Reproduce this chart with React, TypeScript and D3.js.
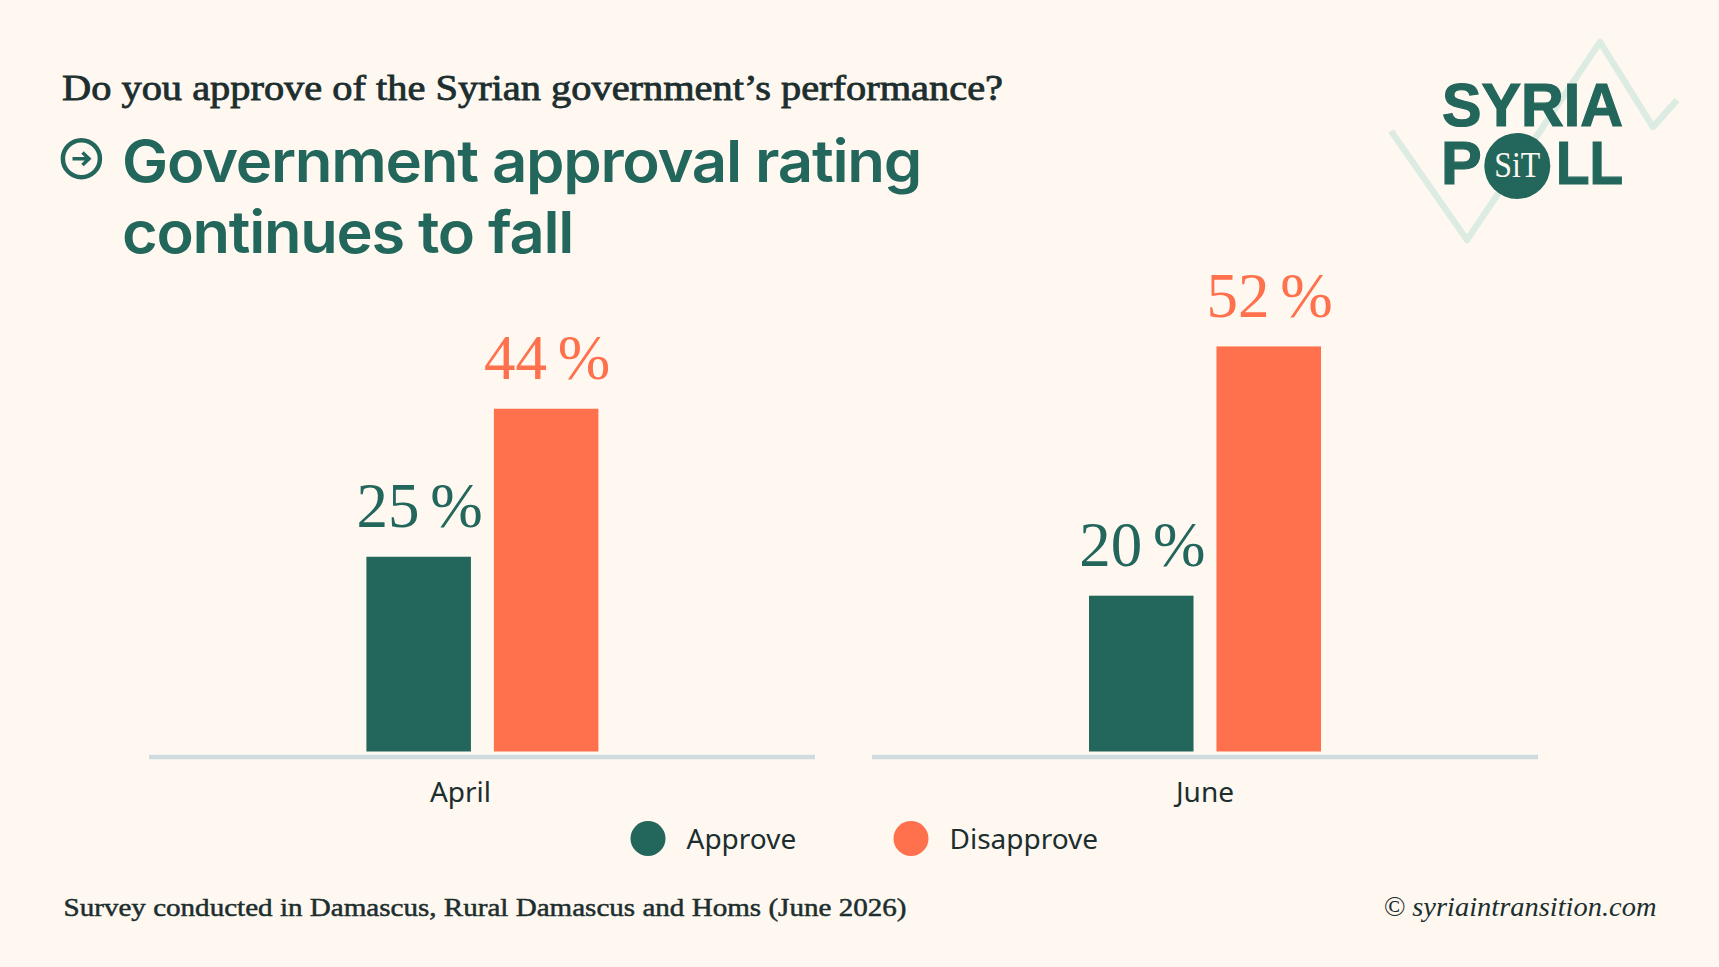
import * as d3 from 'd3';

const months = ['April', 'June'];
const seriesNames = ['Approve', 'Disapprove'];
const approve = [25, 20];
const disapprove = [44, 52];

const WIDTH = 1719;
const HEIGHT = 967;
const BG = '#fff8f1';
const GREEN = '#23665b';
const ORANGE = '#ff704d';
const INK = '#1c2e2e';
const SERIF = '"Liberation Serif", serif';
const SANS = 'Inter, sans-serif';
const LABEL = '"Noto Sans", sans-serif';

const colors = d3.scaleOrdinal<string, string>().domain(seriesNames).range([GREEN, ORANGE]);
const panelX = d3.scaleBand<string>().domain(months).range([149, 1538]).paddingInner(0.0788);
const barX = d3.scaleBand<string>().domain(seriesNames).range([0, 232]).paddingInner(0.18);
const y = d3.scaleLinear().domain([0, 100]).range([751.5, -27.5]);

const valuesBySeries: Record<string, number[]> = { Approve: approve, Disapprove: disapprove };

export default function App() {
  const panelW = panelX.bandwidth();
  const logoLine = d3.line()([
    [1391, 131],
    [1467, 240],
    [1600, 42],
    [1653, 127],
    [1677, 100],
  ]) as string;

  return (
    <svg
      width={WIDTH}
      height={HEIGHT}
      viewBox={`0 0 ${WIDTH} ${HEIGHT}`}
      style={{ position: 'fixed', left: 0, top: 0, display: 'block' }}
    >
      <rect width={WIDTH} height={HEIGHT} fill={BG} />

      {/* logo */}
      <path d={logoLine} fill="none" stroke="#dcece3" strokeWidth={6.5} strokeLinejoin="round" />
      <g
        fontFamily='"Liberation Sans", sans-serif'
        fontWeight={700}
        fontSize={61}
        fill={GREEN}
        stroke={GREEN}
        strokeWidth={1.2}
      >
        <text x={1442} y={126} textLength={181} lengthAdjust="spacingAndGlyphs">SYRIA</text>
        <text x={1441} y={184}>P</text>
        <text x={1556} y={184} textLength={67} lengthAdjust="spacingAndGlyphs">LL</text>
      </g>
      <circle cx={1517.3} cy={166} r={33} fill={GREEN} />
      <text
        x={1494.3}
        y={177}
        textLength={46}
        lengthAdjust="spacingAndGlyphs"
        fontFamily={SERIF}
        fontSize={35}
        fill={BG}
      >
        SiT
      </text>

      {/* heading */}
      <text
        x={62}
        y={100}
        textLength={941}
        lengthAdjust="spacingAndGlyphs"
        fontFamily={SERIF}
        fontSize={35}
        fill={INK}
        stroke={INK}
        strokeWidth={0.8}
      >
        Do you approve of the Syrian government’s performance?
      </text>
      <circle cx={81.4} cy={158.7} r={18.5} fill="none" stroke={GREEN} strokeWidth={4.5} />
      <path d="M72.5 158.7H88M82.5 152.5L89 158.7L82.5 165" fill="none" stroke={GREEN} strokeWidth={3.5} />
      <g fontFamily={SANS} fontSize={58} fontWeight={600} fill={GREEN} letterSpacing={-1.2}>
        <text x={122} y={181.5} textLength={799} lengthAdjust="spacingAndGlyphs">Government approval rating</text>
        <text x={122} y={252.5} textLength={451} lengthAdjust="spacingAndGlyphs">continues to fall</text>
      </g>

      {/* panels */}
      {months.map((month, i) => {
        const px = panelX(month) as number;
        // April's bars and label sit slightly off its panel centre in the source
        const groupLeft = px + (panelW - barX.range()[1]) / 2 + (i === 0 ? 0.4 : 0);
        const labelX = px + panelW / 2 + (i === 0 ? -21.5 : 0);
        return (
          <g key={month}>
            <line x1={px} x2={px + panelW} y1={757} y2={757} stroke="#cfdbdf" strokeWidth={4.5} />
            {seriesNames.map((name) => {
              const value = valuesBySeries[name][i];
              const bx = groupLeft + (barX(name) as number);
              return (
                <g key={name}>
                  <rect
                    x={bx}
                    y={y(value)}
                    width={barX.bandwidth()}
                    height={y(0) - y(value)}
                    fill={colors(name)}
                  />
                  <text
                    x={bx + barX.bandwidth() / 2 + 1}
                    y={y(value) - 29.5}
                    textAnchor="middle"
                    fontFamily={SERIF}
                    fontSize={63}
                    wordSpacing={-5}
                    fill={colors(name)}
                  >
                    {value} %
                  </text>
                </g>
              );
            })}
            <text x={labelX} y={801.5} textAnchor="middle" fontFamily={LABEL} fontSize={28} fill={INK}>
              {month}
            </text>
          </g>
        );
      })}

      {/* legend */}
      {seriesNames.map((name, i) => (
        <g key={name} transform={`translate(${648 + i * 263},838.5)`}>
          <circle r={17.5} fill={colors(name)} />
          <text x={38.5} y={10.5} fontFamily={LABEL} fontSize={28} fill={INK}>{name}</text>
        </g>
      ))}

      {/* footer */}
      <text
        x={63.5}
        y={916}
        textLength={843}
        lengthAdjust="spacingAndGlyphs"
        fontFamily={SERIF}
        fontSize={26}
        fill={INK}
        stroke={INK}
        strokeWidth={0.5}
      >
        Survey conducted in Damascus, Rural Damascus and Homs (June 2026)
      </text>
      <text
        x={1383.5}
        y={916}
        textLength={273}
        lengthAdjust="spacingAndGlyphs"
        fontFamily={SERIF}
        fontStyle="italic"
        fontSize={27}
        fill={INK}
      >
        © syriaintransition.com
      </text>
    </svg>
  );
}
